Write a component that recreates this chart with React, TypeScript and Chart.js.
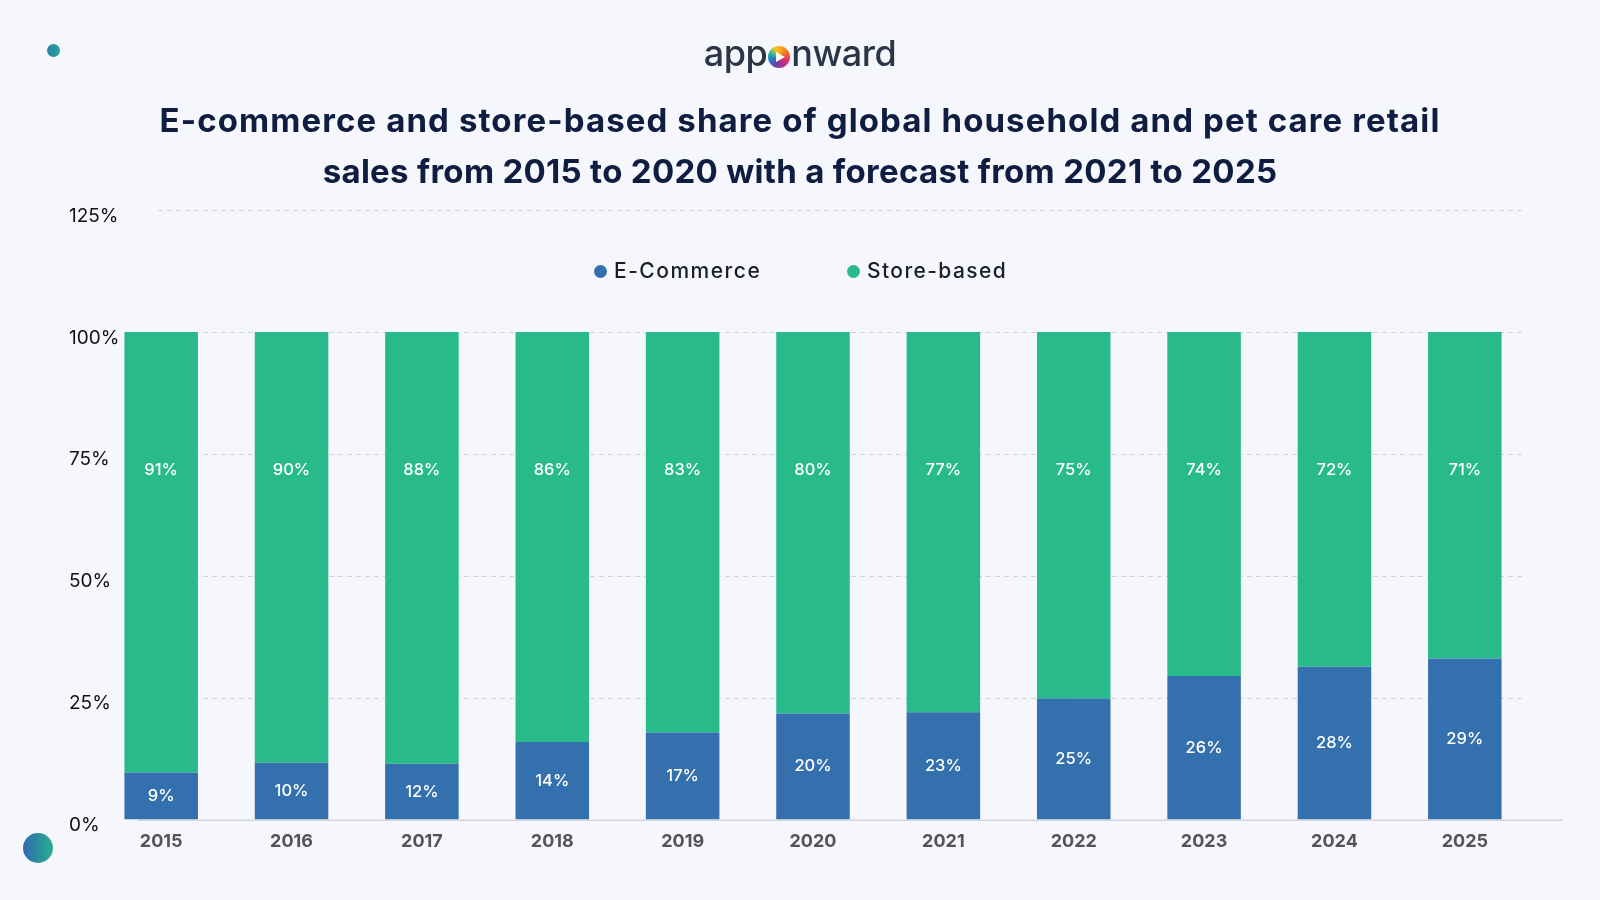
import React, { useEffect, useRef } from 'react';
import { Chart, registerables } from 'chart.js';

Chart.register(...registerables);

// ---- data ----
const years = ['2015', '2016', '2017', '2018', '2019', '2020', '2021', '2022', '2023', '2024', '2025'];
// bar heights as drawn in the picture (percent of the 100% stack)
const eCommerceShare = [9.6, 11.6, 11.4, 15.9, 17.8, 21.7, 22.0, 24.8, 29.4, 31.3, 33.0];
const storeBasedShare = [90.4, 88.4, 88.6, 84.1, 82.2, 78.3, 78.0, 75.2, 70.6, 68.7, 67.0];
// values printed on the bars
const eCommerceLabels = [9, 10, 12, 14, 17, 20, 23, 25, 26, 28, 29];
const storeBasedLabels = [91, 90, 88, 86, 83, 80, 77, 75, 74, 72, 71];
const yTickValues = [0, 25, 50, 75, 100, 125];

const BLUE = '#3470ad';
const GREEN = '#28bb89';
const FONT = 'Inter, "Open Sans", sans-serif';

const gridPlugin = {
  id: 'customGrid',
  beforeDatasetsDraw(chart: any) {
    const { ctx, chartArea, scales } = chart;
    const y = scales.y;
    ctx.save();
    ctx.strokeStyle = '#cfd3dc';
    ctx.lineWidth = 1;
    ctx.setLineDash([5, 4]);
    yTickValues.forEach((v) => {
      if (v === 0) return;
      const py = Math.round(y.getPixelForValue(v)) + 0.5;
      ctx.beginPath();
      ctx.moveTo(chartArea.left + 62, py);
      ctx.lineTo(chartArea.right - 8, py);
      ctx.stroke();
    });
    ctx.setLineDash([]);
    ctx.strokeStyle = '#d3d6dd';
    ctx.lineWidth = 1.5;
    const p0 = y.getPixelForValue(0) + 0.75;
    ctx.beginPath();
    ctx.moveTo(chartArea.left + 42, p0);
    ctx.lineTo(chartArea.right + 33, p0);
    ctx.stroke();

    // y tick labels, left aligned
    ctx.fillStyle = '#111111';
    ctx.font = `400 19px ${FONT}`;
    ctx.textAlign = 'left';
    ctx.textBaseline = 'middle';
    yTickValues.forEach((v) => {
      ctx.fillText(`${v}%`, chartArea.left - 27, y.getPixelForValue(v) + 6);
    });
    ctx.restore();
  },
};

const labelPlugin = {
  id: 'barLabels',
  afterDatasetsDraw(chart: any) {
    const { ctx } = chart;
    ctx.save();
    ctx.fillStyle = '#ffffff';
    ctx.font = `500 16.5px ${FONT}`;
    ctx.textAlign = 'center';
    ctx.textBaseline = 'middle';
    const m0 = chart.getDatasetMeta(0);
    m0.data.forEach((el: any, i: number) => {
      ctx.fillText(`${eCommerceLabels[i]}%`, el.x, (el.y + el.base) / 2);
    });
    const m1 = chart.getDatasetMeta(1);
    m1.data.forEach((el: any, i: number) => {
      ctx.fillText(`${storeBasedLabels[i]}%`, el.x, el.y + 138);
    });
    ctx.restore();
  },
};

export default function App() {
  const ref = useRef<HTMLCanvasElement | null>(null);

  useEffect(() => {
    if (!ref.current) return;
    const chart = new Chart(ref.current, {
      type: 'bar',
      data: {
        labels: years,
        datasets: [
          {
            label: 'E-Commerce',
            data: eCommerceShare,
            backgroundColor: BLUE,
            barPercentage: 0.564,
            categoryPercentage: 1,
          },
          {
            label: 'Store-based',
            data: storeBasedShare,
            backgroundColor: GREEN,
            barPercentage: 0.564,
            categoryPercentage: 1,
          },
        ],
      },
      options: {
        responsive: false,
        animation: false,
        layout: { padding: { left: 96, right: 70, top: 210, bottom: 45 } },
        plugins: {
          legend: { display: false },
          tooltip: { enabled: false },
          title: { display: false },
        },
        scales: {
          x: {
            stacked: true,
            grid: { display: false },
            border: { display: false },
            ticks: {
              color: '#545454',
              padding: 3,
              font: { family: FONT, size: 18, weight: 'bold' },
            },
          },
          y: {
            display: false,
            stacked: true,
            min: 0,
            max: 125,
            ticks: { stepSize: 25 },
          },
        },
      },
      plugins: [gridPlugin, labelPlugin],
    });
    return () => chart.destroy();
  }, []);

  return (
    <div
      style={{
        position: 'fixed',
        left: 0,
        top: 0,
        width: 1600,
        height: 900,
        background: '#f5f7fc',
        overflow: 'hidden',
        fontFamily: FONT,
      }}
    >
      <canvas ref={ref} width={1600} height={900} style={{ position: 'absolute', left: 0, top: 0 }} />

      {/* logo */}
      <div
        style={{
          position: 'absolute',
          top: 31,
          left: 0,
          width: 1600,
          textAlign: 'center',
          fontSize: 36,
          lineHeight: '44px',
          fontWeight: 500,
          color: '#2a3547',
          letterSpacing: -0.5,
        }}
      >
        app
        <span
          style={{
            display: 'inline-block',
            width: 22,
            height: 22,
            borderRadius: '50%',
            background:
              'conic-gradient(from 20deg, #f9a11b, #f26a2b, #e2336b, #b12f8f, #6a3fa6, #2f6fc4, #1fb3a1, #f5c518, #f9a11b)',
            margin: '0 1px',
            verticalAlign: '-2px',
            position: 'relative',
          }}
        >
          <span
            style={{
              position: 'absolute',
              left: 8,
              top: 6,
              width: 0,
              height: 0,
              borderTop: '5px solid transparent',
              borderBottom: '5px solid transparent',
              borderLeft: '9px solid #ffffff',
            }}
          />
        </span>
        nward
      </div>

      {/* title */}
      <div
        style={{
          position: 'absolute',
          top: 95,
          left: 0,
          width: 1600,
          textAlign: 'center',
          fontSize: 33,
          lineHeight: '51px',
          fontWeight: 700,
          color: '#0f1d40',
        }}
      >
        <div style={{ letterSpacing: 1.1 }}>E-commerce and store-based share of global household and pet care retail</div>
        <div style={{ letterSpacing: 0.3 }}>sales from 2015 to 2020 with a forecast from 2021 to 2025</div>
      </div>

      {/* legend */}
      <div style={{ position: 'absolute', left: 593.5, top: 264.5, width: 13, height: 13, borderRadius: '50%', background: BLUE }} />
      <div
        style={{
          position: 'absolute',
          left: 614,
          top: 259,
          lineHeight: '24px',
          fontSize: 21,
          fontWeight: 500,
          color: '#1b1d2a',
          letterSpacing: 1.5,
        }}
      >
        E-Commerce
      </div>
      <div style={{ position: 'absolute', left: 846.5, top: 264.5, width: 13, height: 13, borderRadius: '50%', background: GREEN }} />
      <div
        style={{
          position: 'absolute',
          left: 867,
          top: 259,
          lineHeight: '24px',
          fontSize: 21,
          fontWeight: 500,
          color: '#1b1d2a',
          letterSpacing: 1.4,
        }}
      >
        Store-based
      </div>

      {/* decorative dots */}
      <div
        style={{
          position: 'absolute',
          left: 46.5,
          top: 43.5,
          width: 13,
          height: 13,
          borderRadius: '50%',
          background: 'linear-gradient(90deg, #2d7fa8, #22a596)',
        }}
      />
      <div
        style={{
          position: 'absolute',
          left: 23,
          top: 833,
          width: 30,
          height: 30,
          borderRadius: '50%',
          background: 'linear-gradient(90deg, #2f6aae, #27b08f)',
        }}
      />
    </div>
  );
}
